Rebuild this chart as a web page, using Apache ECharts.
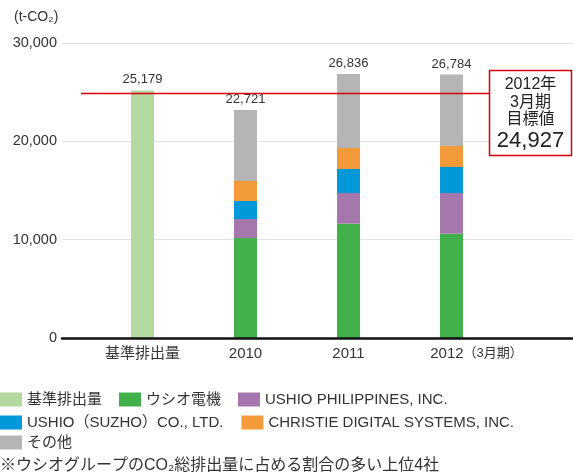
<!DOCTYPE html>
<html><head><meta charset="utf-8">
<script src="https://cdn.jsdelivr.net/npm/echarts@6/dist/echarts.min.js"></script>
<style>html,body{margin:0;padding:0;background:#fff}#c{width:573px;height:476px}</style>
</head><body><div id="c"></div>
<script>
const categories = ['基準排出量', '2010', '2011', '2012'];
const categorySuffix = ['', '', '', '（3月期）'];
const baseline    = [25179, null, null, null];
const ushioDenki  = [null, 10170, 11624, 10607];
const philippines = [null, 1932, 3122, 4139];
const suzhou      = [null, 1831, 2441, 2644];
const christie    = [null, 2034, 2136, 2136];
const others      = [null, 7221, 7513, 7258];
const totals      = [25179, 22721, 26836, 26784];
const targetValue = 24927;
const targetLines = ['2012年', '3月期', '目標値'];
const yMin = 0, yMax = 30000, yStep = 10000;
const seriesNames = ['基準排出量', 'ウシオ電機', 'USHIO PHILIPPINES, INC.', 'USHIO（SUZHO）CO., LTD.', 'CHRISTIE DIGITAL SYSTEMS, INC.', 'その他'];
const unitLabel = '(t-CO₂)';
const footnote = '※ウシオグループのCO₂総排出量に占める割合の多い上位4社';

const FONT = '"Liberation Sans", "Noto Sans CJK JP", sans-serif';
const colors = ['#b4d9a0', '#43b14b', '#a677ad', '#0098d8', '#f39a3b', '#b4b5b4'];
const fmt = v => Number(v).toLocaleString('en-US');

const chart = echarts.init(document.getElementById('c'), null, {renderer: 'canvas'});
const seriesData = [baseline, ushioDenki, philippines, suzhou, christie, others];

const barSeries = seriesData.map((d, i) => ({
  name: seriesNames[i],
  type: 'bar',
  stack: 'total',
  xAxisIndex: 0, yAxisIndex: 0,
  barWidth: 23,
  itemStyle: {color: colors[i]},
  data: d,
  label: (i === 0 || i === 5) ? {
    show: true, position: 'top', distance: 4,
    fontFamily: FONT, fontSize: 13, color: '#333',
    formatter: p => fmt(totals[p.dataIndex])
  } : {show: false}
}));

const legendText = {fontFamily: FONT, fontSize: 15, color: '#333'};
const legendBase = {orient: 'horizontal', left: 0, padding: 0, itemWidth: 22, itemHeight: 14, itemGap: 17, icon: 'rect', selectedMode: false, textStyle: legendText};

const option = {
  animation: false,
  color: colors,
  grid: [
    {left: 91, right: 70, top: 43, bottom: 138},
    {left: 62, right: 0, top: 43, bottom: 138},
    {left: 81, right: 84, top: 43, bottom: 138}
  ],
  xAxis: [
    {type: 'category', gridIndex: 0, data: categories,
     axisLine: {show: false}, axisTick: {show: false}, splitLine: {show: false},
     axisLabel: {interval: 0, margin: 8, fontFamily: FONT, fontSize: 15, color: '#333',
       formatter: (v, i) => categorySuffix[i] ? '{pad|}{a|' + v + '}{b|' + categorySuffix[i] + '}' : v,
       rich: {pad: {width: 50}, a: {fontFamily: FONT, fontSize: 15, color: '#333'}, b: {fontFamily: FONT, fontSize: 13, color: '#333'}}}},
    {type: 'value', gridIndex: 1, min: 0, max: 1, z: 5,
     axisLine: {show: true, onZero: false, lineStyle: {color: '#111', width: 2.5}},
     axisTick: {show: false}, axisLabel: {show: false}, splitLine: {show: false}},
    {type: 'value', gridIndex: 2, min: 0, max: 1, show: false}
  ],
  yAxis: [
    {type: 'value', gridIndex: 0, min: yMin, max: yMax, interval: yStep, show: false},
    {type: 'value', gridIndex: 1, min: yMin, max: yMax, interval: yStep,
     axisLine: {show: false}, axisTick: {show: false},
     axisLabel: {margin: 5, fontFamily: FONT, fontSize: 14.5, color: '#333', formatter: v => fmt(v)},
     splitLine: {show: true, lineStyle: {color: '#e2e2e2', width: 1}}},
    {type: 'value', gridIndex: 2, min: yMin, max: yMax, show: false}
  ],
  legend: [
    Object.assign({}, legendBase, {top: 392, data: seriesNames.slice(0, 3)}),
    Object.assign({}, legendBase, {top: 415, itemGap: 18, data: seriesNames.slice(3, 5)}),
    Object.assign({}, legendBase, {top: 435, data: seriesNames.slice(5)})
  ],
  series: barSeries.concat([{
    type: 'line', xAxisIndex: 2, yAxisIndex: 2, data: [], z: 10, silent: true,
    markLine: {silent: true, symbol: ['none', 'none'], label: {show: false},
      lineStyle: {color: '#d7000f', width: 1.3, type: 'solid'},
      data: [{yAxis: targetValue}]}
  }]),
  graphic: [
    {type: 'text', left: 14, top: 10, style: {text: unitLabel, font: '14px ' + FONT, fill: '#333'}},
    {type: 'rect', shape: {x: 489.5, y: 70.5, width: 82, height: 85}, style: {fill: '#fff', stroke: '#d7000f', lineWidth: 1.5}, z: 20},
    {type: 'text', x: 530.5, y: 85, z: 21, style: {text: targetLines[0], font: '16px ' + FONT, fill: '#222', align: 'center', verticalAlign: 'middle'}},
    {type: 'text', x: 530.5, y: 102.5, z: 21, style: {text: targetLines[1], font: '16px ' + FONT, fill: '#222', align: 'center', verticalAlign: 'middle'}},
    {type: 'text', x: 530.5, y: 119.5, z: 21, style: {text: targetLines[2], font: '16px ' + FONT, fill: '#222', align: 'center', verticalAlign: 'middle'}},
    {type: 'text', x: 530.5, y: 140.5, z: 21, style: {text: fmt(targetValue), font: '22px ' + FONT, fill: '#222', align: 'center', verticalAlign: 'middle'}},
    {type: 'text', x: 0, y: 466, style: {text: footnote, font: '16px ' + FONT, fill: '#333', verticalAlign: 'middle'}}
  ]
};
chart.setOption(option);
</script>
</body></html>
